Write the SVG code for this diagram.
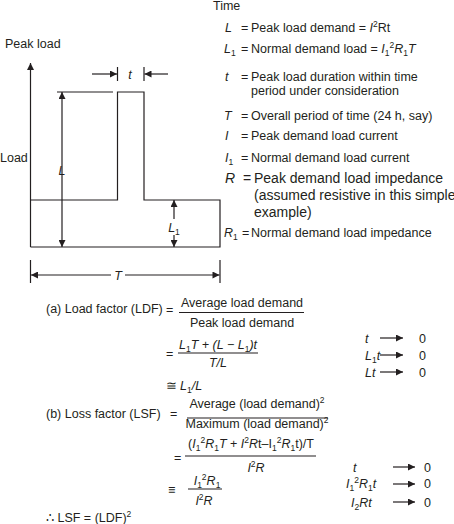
<svg xmlns="http://www.w3.org/2000/svg" width="454" height="524" viewBox="0 0 454 524">
<style>
text{font-family:"Liberation Sans",Arial,sans-serif;font-size:12.5px;fill:#231f20}
.i{font-style:italic}
.m{text-anchor:middle}
.big{font-size:14px}
.ln{stroke:#231f20;stroke-width:1.2;fill:none}
.sub{font-size:8.5px;baseline-shift:-3px;font-style:normal}
.sup{font-size:8.5px;baseline-shift:5px;font-style:normal}
</style>
<defs>
<marker id="ah" viewBox="0 0 10 10" refX="10" refY="5" markerWidth="9" markerHeight="7" markerUnits="userSpaceOnUse" orient="auto-start-reverse">
<path d="M0,0 L10,5 L0,10 z" fill="#231f20"/>
</marker>
</defs>

<g id="graph">
<text x="5" y="47.5">Peak load</text>
<text x="0" y="161.5">Load</text>
<text x="213" y="10">Time</text>
<path class="ln" d="M30.5,247 V63" marker-end="url(#ah)"/>
<path class="ln" d="M30.5,247 H220 V200 H144 V92 H117.5 V200 H30.5"/>
<path class="ln" d="M57,92 H113"/>
<path class="ln" d="M62,92 V247" marker-start="url(#ah)" marker-end="url(#ah)"/>
<text class="i m" x="62" y="174.5">L</text>
<path class="ln" d="M174,219 V200" marker-end="url(#ah)"/>
<path class="ln" d="M174,235 V247" marker-end="url(#ah)"/>
<text class="i m" x="174" y="232">L<tspan class="sub">1</tspan></text>
<path class="ln" d="M117.5,67 V81 M144,67 V81"/>
<path class="ln" d="M92,74 H117" marker-end="url(#ah)"/>
<path class="ln" d="M168,74 H144.5" marker-end="url(#ah)"/>
<text class="i m" x="130" y="78.5">t</text>
<path class="ln" d="M30.5,260 V283 M220,260 V283"/>
<path class="ln" d="M111,275 H31" marker-end="url(#ah)"/>
<path class="ln" d="M125,275 H219.5" marker-end="url(#ah)"/>
<text class="i m" x="118" y="279.5">T</text>
</g>

<g id="legend">
<text class="i" x="225" y="31.5">L</text><text x="241" y="31.5">=</text><text x="251" y="31.5">Peak load demand = <tspan class="i">I</tspan><tspan class="sup">2</tspan>Rt</text>
<text class="i" x="224" y="52.5">L<tspan class="sub">1</tspan></text><text x="241" y="52.5">=</text><text x="251" y="52.5">Normal demand load = <tspan class="i">I</tspan><tspan class="sub">1</tspan><tspan class="sup">2</tspan><tspan class="i">R</tspan><tspan class="sub">1</tspan><tspan class="i">T</tspan></text>
<text class="i" x="225" y="80.5">t</text><text x="241" y="80.5">=</text><text x="251" y="80.5">Peak load duration within time</text>
<text x="251" y="94.5">period under consideration</text>
<text class="i" x="224" y="119.5">T</text><text x="241" y="119.5">=</text><text x="251" y="119.5">Overall period of time (24 h, say)</text>
<text class="i" x="225" y="139.5">I</text><text x="241" y="139.5">=</text><text x="251" y="139.5">Peak demand load current</text>
<text class="i" x="225" y="161.5">I<tspan class="sub">1</tspan></text><text x="241" y="161.5">=</text><text x="251" y="161.5">Normal demand load current</text>
<text class="i big" x="225" y="183">R</text><text class="big" x="243" y="183">=</text><text class="big" x="254" y="183">Peak demand load impedance</text>
<text class="big" x="254" y="200">(assumed resistive in this simple</text>
<text class="big" x="254" y="217">example)</text>
<text class="i" x="224" y="236.5">R<tspan class="sub">1</tspan></text><text x="242" y="236.5">=</text><text x="251" y="236.5">Normal demand load impedance</text>
</g>

<g id="ldf">
<text x="46" y="312.5">(a) Load factor (LDF)</text>
<text x="166" y="314">=</text>
<text class="m" x="242" y="306.5">Average load demand</text>
<path class="ln" d="M179,312.5 H304"/>
<text class="m" x="242" y="326.5">Peak load demand</text>
<text x="166" y="358">=</text>
<text class="i m" x="218" y="348.5">L<tspan class="sub">1</tspan>T + (L − L<tspan class="sub">1</tspan>)t</text>
<path class="ln" d="M178,353 H258"/>
<text class="i m" x="218" y="366.5">T/L</text>
<text x="166" y="389.5">≅</text>
<text class="i" x="180" y="389.5">L<tspan class="sub">1</tspan>/L</text>
<text class="i" x="365" y="342.5">t</text>
<text class="i" x="365" y="359.5">L<tspan class="sub">1</tspan>t</text>
<text class="i" x="365" y="376.5">Lt</text>
<path class="ln" d="M380,338 H403" marker-end="url(#ah)"/>
<path class="ln" d="M380,355 H403" marker-end="url(#ah)"/>
<path class="ln" d="M380,372 H403" marker-end="url(#ah)"/>
<text x="419" y="342.5">0</text>
<text x="419" y="359.5">0</text>
<text x="419" y="376.5">0</text>
</g>

<g id="lsf">
<text x="46" y="417.5">(b) Loss factor (LSF)</text>
<text x="170" y="418">=</text>
<text class="m" x="257" y="407.5">Average (load demand)<tspan class="sup">2</tspan></text>
<path class="ln" d="M187,418 H328"/>
<text class="m" x="257" y="428">Maximum (load demand)<tspan class="sup">2</tspan></text>
<text x="174" y="462">=</text>
<text class="m" x="251" y="447.5">(<tspan class="i">I</tspan><tspan class="sub">1</tspan><tspan class="sup">2</tspan><tspan class="i">R</tspan><tspan class="sub">1</tspan><tspan class="i">T</tspan> + <tspan class="i">I</tspan><tspan class="sup">2</tspan><tspan class="i">R</tspan>t–I<tspan class="sub">1</tspan><tspan class="sup">2</tspan><tspan class="i">R</tspan><tspan class="sub">1</tspan>t)/T</text>
<path class="ln" d="M185,456 H316"/>
<text class="m" x="256" y="471.5"><tspan class="i">I</tspan><tspan class="sup">2</tspan><tspan class="i">R</tspan></text>
<text x="168" y="494">≡</text>
<text class="m" x="207" y="485"><tspan class="i">I</tspan><tspan class="sub">1</tspan><tspan class="sup">2</tspan><tspan class="i">R</tspan><tspan class="sub">1</tspan></text>
<path class="ln" d="M188,489 H222"/>
<text class="m" x="204" y="504.5"><tspan class="i">I</tspan><tspan class="sup">2</tspan><tspan class="i">R</tspan></text>
<text x="46" y="521.5">∴ LSF = (LDF)<tspan class="sup">2</tspan></text>
<text class="i" x="353" y="471.5">t</text>
<text class="i" x="346" y="487.5">I<tspan class="sub">1</tspan><tspan class="sup">2</tspan>R<tspan class="sub">1</tspan>t</text>
<text class="i" x="351" y="506.5">I<tspan class="sub">2</tspan>Rt</text>
<path class="ln" d="M393,467 H415" marker-end="url(#ah)"/>
<path class="ln" d="M393,484 H415" marker-end="url(#ah)"/>
<path class="ln" d="M393,502 H415" marker-end="url(#ah)"/>
<text x="424" y="471.5">0</text>
<text x="424" y="488">0</text>
<text x="424" y="506.5">0</text>
</g>
</svg>
